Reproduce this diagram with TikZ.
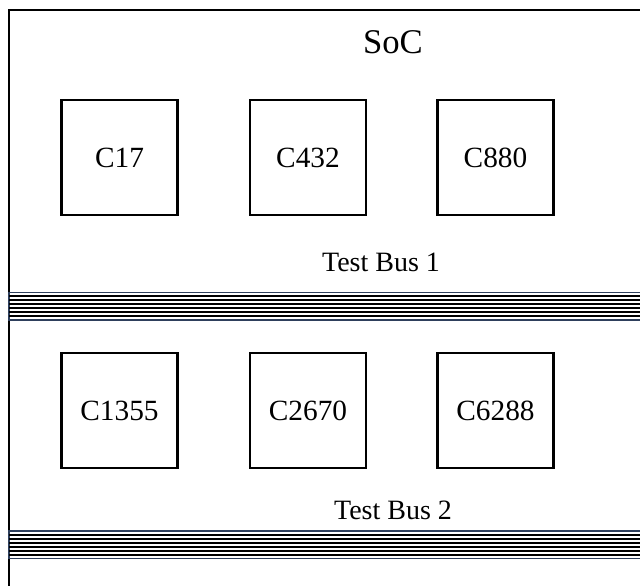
\documentclass[tikz,border=0pt]{standalone}
\usepackage{fontspec}
\setmainfont{Liberation Serif}
\definecolor{busedge}{HTML}{2E3F5C}
\begin{document}
\begin{tikzpicture}[x=0.75pt,y=-0.75pt,
  core/.style={draw, line width=1.6pt, minimum width=87pt, minimum height=86pt,
    inner sep=0pt, font=\fontsize{22}{26}\selectfont},
  caption/.style={font=\fontsize{21}{25}\selectfont, inner sep=0pt},
  title/.style={font=\fontsize{26}{30}\selectfont, inner sep=0pt},
  frame/.style={line width=2.2pt},
  busline/.style={line width=1.4pt, black},
  busbox/.style={draw=busedge, line width=1.3pt}]
\useasboundingbox (0,0) rectangle (640,586);
\fill[white] (0,0) rectangle (640,586);

% SoC outline (open to the right and bottom)
\draw[frame] (9,590) -- (9,10) -- (645,10);
\node[title] (soc) at (393,42) {SoC};

% cores attached to test bus 1
\node[core] (c17)  at (119.5,157.5) {C17};
\node[core] (c432) at (308,157.5)   {C432};
\node[core] (c880) at (495.5,157.5) {C880};
\node[caption] (tb1) at (381,262) {Test Bus 1};

% test bus 1: six wires inside a framed strip
\draw[busbox] (9,292.5) rectangle (645,320);
\foreach \i in {1,...,6}
  \draw[busline] (9,{292.5+\i*27.5/7}) -- (645,{292.5+\i*27.5/7});

% cores attached to test bus 2
\node[core] (c1355) at (119.5,410.5) {C1355};
\node[core] (c2670) at (308,410.5)   {C2670};
\node[core] (c6288) at (495.5,410.5) {C6288};
\node[caption] (tb2) at (393,510) {Test Bus 2};

% test bus 2
\draw[busbox] (9,531) rectangle (645,558.5);
\foreach \i in {1,...,6}
  \draw[busline] (9,{531+\i*27.5/7}) -- (645,{531+\i*27.5/7});
\end{tikzpicture}
\end{document}
